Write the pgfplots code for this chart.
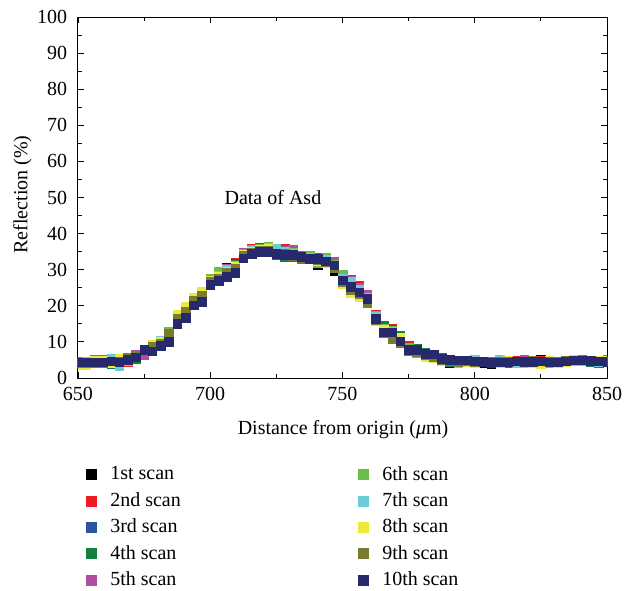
\documentclass[border=0pt]{standalone}
\usepackage{fontspec}
\setmainfont{Liberation Serif}
\usepackage{pgfplots}
\usepackage{pgfplotstable}
\pgfplotsset{compat=1.18}
\definecolor{c1}{HTML}{000000}
\definecolor{c2}{HTML}{ED1C24}
\definecolor{c3}{HTML}{3050A0}
\definecolor{c4}{HTML}{128040}
\definecolor{c5}{HTML}{B04FA0}
\definecolor{c6}{HTML}{6CBD45}
\definecolor{c7}{HTML}{6CCBD8}
\definecolor{c8}{HTML}{EDE83C}
\definecolor{c9}{HTML}{7B7B2F}
\definecolor{c10}{HTML}{262A6C}
\pgfplotstableread{
x s1 s2 s3 s4 s5 s6 s7 s8 s9 s10
650.000 4.2 4.5 4.3 4.0 4.6 4.1 4.4 3.6 4.1 4.4
653.125 4.3 4.6 4.2 4.1 4.7 4.3 4.5 3.7 4.2 4.4
656.250 4.4 4.8 4.3 4.2 5.0 4.3 4.4 4.9 4.3 4.4
659.375 4.5 4.7 4.4 4.3 5.2 4.5 4.6 4.8 4.3 4.4
662.500 4.6 4.9 4.7 4.0 4.8 4.4 5.4 4.2 4.7 4.6
665.625 4.5 4.6 4.5 4.2 4.6 4.5 3.4 5.3 4.6 4.4
668.750 5.0 4.4 5.0 5.2 5.6 5.3 4.8 5.4 5.5 5.1
671.875 5.6 5.2 5.8 5.5 6.5 5.9 5.9 6.0 6.0 5.8
675.000 7.9 7.7 8.0 7.8 6.4 8.0 7.8 7.4 7.5 7.8
678.125 8.4 8.2 8.5 9.0 8.6 9.3 8.8 9.2 8.7 7.4
681.250 10.1 9.9 10.0 9.8 9.6 10.2 10.4 10.0 9.6 8.9
684.375 12.2 12.6 12.4 12.5 12.5 12.8 12.4 12.3 12.2 10.0
687.500 17.2 17.3 17.0 17.1 17.0 16.8 16.9 17.5 16.5 15.0
690.625 19.0 18.8 18.9 19.2 18.7 19.3 18.9 19.7 18.5 16.7
693.750 21.8 22.0 21.6 21.5 21.8 22.0 21.7 22.3 21.5 20.2
696.875 23.5 23.6 23.3 23.8 23.4 23.9 23.5 24.0 22.8 21.1
700.000 27.4 27.2 27.0 27.3 27.6 27.5 27.0 26.9 26.7 25.8
703.125 28.8 28.5 28.6 28.9 28.7 29.6 28.4 28.0 27.6 26.9
706.250 30.6 30.0 30.2 30.1 30.4 30.0 30.1 29.6 29.3 28.1
709.375 31.5 32.0 31.6 31.5 31.3 31.2 31.1 31.0 30.2 29.1
712.500 34.8 34.5 34.6 34.4 34.7 34.6 34.3 34.2 33.9 33.2
715.625 35.6 35.8 35.4 35.3 35.5 35.6 35.2 35.0 34.8 34.5
718.750 35.8 35.7 36.2 35.6 35.9 36.0 35.7 35.5 35.2 35.0
721.875 35.9 36.2 36.0 35.7 36.3 36.4 36.1 35.8 35.4 35.0
725.000 34.2 35.4 35.0 34.0 35.6 35.3 35.8 34.6 34.4 34.5
728.125 34.8 36.0 34.9 33.6 35.4 35.1 35.0 34.3 34.5 34.1
731.250 34.0 34.9 34.6 33.5 35.5 34.8 34.4 34.0 33.8 34.1
734.375 33.2 33.9 33.8 33.6 34.0 33.7 33.5 33.2 33.0 33.6
737.500 33.5 33.7 33.6 33.4 33.8 33.9 33.5 33.0 33.2 33.1
740.625 31.4 33.0 33.2 33.5 32.8 32.0 33.1 32.5 32.6 33.0
743.750 32.8 33.0 32.6 32.9 33.4 33.3 32.8 32.0 32.2 32.4
746.875 29.7 31.6 31.4 31.3 32.2 31.5 31.0 30.4 30.6 31.3
750.000 27.8 28.0 27.7 27.9 28.1 28.6 27.6 26.0 26.5 27.1
753.125 26.4 27.2 26.0 26.6 27.1 26.5 26.6 23.6 24.5 25.3
756.250 25.0 25.5 24.8 24.6 25.0 24.6 24.5 22.6 23.3 23.8
759.375 22.8 22.5 22.6 22.4 23.1 22.3 22.4 21.0 20.8 22.0
762.500 17.5 17.6 17.2 17.4 17.0 17.3 16.9 15.8 16.0 16.4
765.625 13.9 13.6 13.4 14.6 13.5 13.7 13.2 13.3 12.4 12.7
768.750 13.4 13.6 13.3 13.2 13.0 13.1 12.9 12.6 10.8 12.7
771.875 11.4 11.2 11.0 11.8 11.0 11.2 10.8 11.3 9.8 10.2
775.000 8.6 8.9 8.3 8.5 8.2 8.4 8.0 7.7 7.4 7.8
778.125 7.4 7.6 7.2 8.1 7.3 7.0 7.5 7.2 7.1 7.8
781.250 6.6 6.7 6.6 7.1 6.5 6.2 6.8 5.9 6.3 6.8
784.375 6.2 6.3 6.4 6.0 6.1 6.2 6.3 5.5 5.9 6.6
787.500 5.2 5.6 5.5 5.3 5.4 5.3 5.5 4.7 5.0 5.4
790.625 4.3 5.0 5.2 4.5 5.1 4.6 4.7 4.6 4.8 5.0
793.750 4.7 4.9 4.8 4.6 4.8 4.7 4.2 4.4 4.5 4.9
796.875 4.8 4.7 4.6 4.9 4.8 4.6 4.9 4.5 4.7 4.9
800.000 4.7 4.5 4.4 4.6 4.9 4.8 5.1 4.3 4.5 4.6
803.125 4.3 4.6 4.4 4.5 4.7 4.6 4.5 4.7 4.4 4.5
806.250 4.0 4.4 4.6 4.2 4.3 4.5 4.6 4.2 4.5 4.3
809.375 4.5 4.3 4.4 4.4 4.2 4.3 5.0 4.3 4.6 4.4
812.500 4.2 4.6 4.1 4.3 4.4 4.4 4.5 4.8 4.6 4.4
815.625 4.5 4.8 4.1 4.6 4.5 4.2 4.3 4.7 4.6 4.6
818.750 4.6 4.7 4.4 4.5 5.0 4.4 4.2 4.6 4.5 4.5
821.875 4.4 4.5 4.5 4.6 4.6 4.5 4.6 4.3 4.8 4.5
825.000 5.0 4.8 4.3 4.4 4.4 4.6 4.5 4.0 4.7 4.6
828.125 4.3 4.5 4.7 4.5 4.2 4.3 4.4 4.8 4.6 4.4
831.250 4.4 4.6 4.5 4.3 4.5 4.4 4.4 4.2 4.7 4.4
834.375 4.6 4.8 4.7 4.6 4.5 4.4 4.6 4.5 4.8 4.7
837.500 4.9 4.7 4.8 4.7 4.9 4.6 4.8 5.1 4.9 4.9
840.625 4.9 4.8 4.7 4.7 4.9 4.8 4.8 4.9 5.0 4.9
843.750 4.7 4.9 4.6 4.5 4.9 4.8 4.8 4.6 4.9 4.8
846.875 4.7 4.6 4.5 4.3 4.6 4.7 4.5 4.8 4.6 4.7
850.000 4.6 4.7 4.5 4.4 5.0 4.6 4.4 4.8 4.5 4.5
}\scans
\begin{document}
\fontsize{20pt}{24pt}\selectfont
\begin{tikzpicture}
\useasboundingbox (-78pt,-212pt) rectangle (546pt,378pt);
\begin{axis}[
  at={(0pt,0pt)}, anchor=south west,
  scale only axis, width=529pt, height=361pt,
  xmin=650, xmax=850, ymin=0, ymax=100,
  xtick={650,700,750,800,850}, ytick={0,10,...,100},
  minor x tick num=1, minor y tick num=1,
  tick align=inside, major tick length=6pt, minor tick length=4pt,
  axis line style={line width=1pt}, every tick/.style={line width=0.9pt, black},
  /pgf/number format/assume math mode=true,
  /pgf/number format/1000 sep={},
  ticklabel style={font=\fontsize{20pt}{24pt}\selectfont},
  yticklabel style={xshift=-4pt},
  xticklabel style={yshift=-2pt},
  label style={font=\fontsize{20pt}{24pt}\selectfont},
  xlabel={Distance from origin (\textit{μ}m)},
  ylabel={Reflection (\%)},
  xlabel style={at={(axis description cs:0.501,-0.144)}, anchor=center},
  ylabel style={at={(axis description cs:-0.105,0.508)}, anchor=center},
  clip marker paths=true,
  legend columns=5, transpose legend,
  legend image code/.code={\fill[#1] (0pt,-5pt) rectangle (10pt,5pt);},
  legend style={at={(axis description cs:0.0146,-0.238)}, anchor=north west,
    draw=none, fill=none, inner sep=0pt, row sep=5.5pt,
    font=\fontsize{20pt}{24pt}\selectfont,
    /tikz/every odd column/.append style={column sep=12pt},
    /tikz/every even column/.append style={column sep=175pt}},
  legend cell align=left,
]
\addplot[only marks, mark=square*, mark size=4.3pt, c1, mark options={draw=none, fill=c1}] table[x=x, y=s1] {\scans};
\addplot[only marks, mark=square*, mark size=4.3pt, c2, mark options={draw=none, fill=c2}] table[x=x, y=s2] {\scans};
\addplot[only marks, mark=square*, mark size=4.3pt, c3, mark options={draw=none, fill=c3}] table[x=x, y=s3] {\scans};
\addplot[only marks, mark=square*, mark size=4.3pt, c4, mark options={draw=none, fill=c4}] table[x=x, y=s4] {\scans};
\addplot[only marks, mark=square*, mark size=4.3pt, c5, mark options={draw=none, fill=c5}] table[x=x, y=s5] {\scans};
\addplot[only marks, mark=square*, mark size=4.3pt, c6, mark options={draw=none, fill=c6}] table[x=x, y=s6] {\scans};
\addplot[only marks, mark=square*, mark size=4.3pt, c7, mark options={draw=none, fill=c7}] table[x=x, y=s7] {\scans};
\addplot[only marks, mark=square*, mark size=4.3pt, c8, mark options={draw=none, fill=c8}] table[x=x, y=s8] {\scans};
\addplot[only marks, mark=square*, mark size=4.3pt, c9, mark options={draw=none, fill=c9}] table[x=x, y=s9] {\scans};
\addplot[only marks, mark=square*, mark size=4.3pt, c10, mark options={draw=none, fill=c10}] table[x=x, y=s10] {\scans};
\legend{1st scan, 2nd scan, 3rd scan, 4th scan, 5th scan, 6th scan, 7th scan, 8th scan, 9th scan, 10th scan}
\node[font=\fontsize{20pt}{24pt}\selectfont] at (axis cs:723.7,50.1) {Data of Asd};
\end{axis}
\end{tikzpicture}
\end{document}
